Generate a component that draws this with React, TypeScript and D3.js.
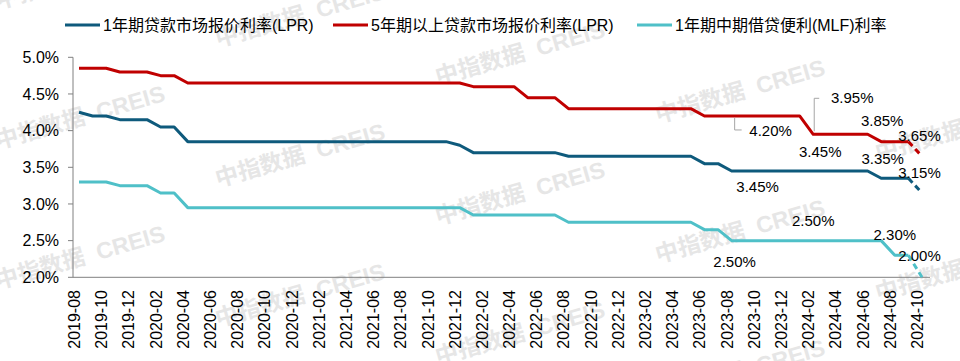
import React from "react";
import * as d3 from "d3";

const months = [
  "2019-08","2019-09","2019-10","2019-11","2019-12",
  "2020-01","2020-02","2020-03","2020-04","2020-05","2020-06","2020-07","2020-08","2020-09","2020-10","2020-11","2020-12",
  "2021-01","2021-02","2021-03","2021-04","2021-05","2021-06","2021-07","2021-08","2021-09","2021-10","2021-11","2021-12",
  "2022-01","2022-02","2022-03","2022-04","2022-05","2022-06","2022-07","2022-08","2022-09","2022-10","2022-11","2022-12",
  "2023-01","2023-02","2023-03","2023-04","2023-05","2023-06","2023-07","2023-08","2023-09","2023-10","2023-11","2023-12",
  "2024-01","2024-02","2024-03","2024-04","2024-05","2024-06","2024-07","2024-08","2024-09","2024-10",
];

const lpr1y = [
  4.25,4.20,4.20,4.15,4.15,
  4.15,4.05,4.05,3.85,3.85,3.85,3.85,3.85,3.85,3.85,3.85,3.85,
  3.85,3.85,3.85,3.85,3.85,3.85,3.85,3.85,3.85,3.85,3.85,3.80,
  3.70,3.70,3.70,3.70,3.70,3.70,3.70,3.65,3.65,3.65,3.65,3.65,
  3.65,3.65,3.65,3.65,3.65,3.55,3.55,3.45,3.45,3.45,3.45,3.45,
  3.45,3.45,3.45,3.45,3.45,3.45,3.35,3.35,3.35,3.15,
];

const lpr5y = [
  4.85,4.85,4.85,4.80,4.80,
  4.80,4.75,4.75,4.65,4.65,4.65,4.65,4.65,4.65,4.65,4.65,4.65,
  4.65,4.65,4.65,4.65,4.65,4.65,4.65,4.65,4.65,4.65,4.65,4.65,
  4.60,4.60,4.60,4.60,4.45,4.45,4.45,4.30,4.30,4.30,4.30,4.30,
  4.30,4.30,4.30,4.30,4.30,4.20,4.20,4.20,4.20,4.20,4.20,4.20,
  4.20,3.95,3.95,3.95,3.95,3.95,3.85,3.85,3.85,3.65,
];

const mlf = [
  3.30,3.30,3.30,3.25,3.25,
  3.25,3.15,3.15,2.95,2.95,2.95,2.95,2.95,2.95,2.95,2.95,2.95,
  2.95,2.95,2.95,2.95,2.95,2.95,2.95,2.95,2.95,2.95,2.95,2.95,
  2.85,2.85,2.85,2.85,2.85,2.85,2.85,2.75,2.75,2.75,2.75,2.75,
  2.75,2.75,2.75,2.75,2.75,2.65,2.65,2.50,2.50,2.50,2.50,2.50,
  2.50,2.50,2.50,2.50,2.50,2.50,2.50,2.30,2.30,2.00,
];

const seriesNames = [
  "1年期贷款市场报价利率(LPR)",
  "5年期以上贷款市场报价利率(LPR)",
  "1年期中期借贷便利(MLF)利率",
];
const seriesColors = ["#0E5A7C", "#C00000", "#4FC0C8"];
const seriesValues = [lpr1y, lpr5y, mlf];

const yTicks = [2.0, 2.5, 3.0, 3.5, 4.0, 4.5, 5.0];

// annotations: series index, month index, text
const annotations = [
  { s: 1, i: 48, t: "4.20%" },
  { s: 1, i: 54, t: "3.95%" },
  { s: 1, i: 59, t: "3.85%" },
  { s: 1, i: 62, t: "3.65%" },
  { s: 0, i: 54, t: "3.45%" },
  { s: 0, i: 59, t: "3.35%" },
  { s: 0, i: 62, t: "3.15%" },
  { s: 0, i: 48, t: "3.45%" },
  { s: 2, i: 54, t: "2.50%" },
  { s: 2, i: 60, t: "2.30%" },
  { s: 2, i: 62, t: "2.00%" },
  { s: 2, i: 48, t: "2.50%" },
];
// layout offsets for the annotations (text center relative to point), leader flag
const annotationLayout = [
  { dx: 39, dy: 15, leader: "down" },
  { dx: 39, dy: -37, leader: "up" },
  { dx: 1, dy: -21 },
  { dx: -2.5, dy: -21 },
  { dx: 7, dy: -19 },
  { dx: 1.5, dy: -20 },
  { dx: -2.5, dy: -20 },
  { dx: 26, dy: 16 },
  { dx: 0, dy: -20 },
  { dx: 0, dy: -21 },
  { dx: -2.5, dy: -22 },
  { dx: 3, dy: 21 },
];

const legendX = [65, 333, 637];

const FONT = "'Liberation Sans', Arial, 'Noto Sans CJK SC', sans-serif";

export default function App() {
  const W = 960;
  const H = 361;
  const x = d3.scalePoint<string>().domain(months).range([79, 922]);
  const y = d3.scaleLinear().domain([2, 5]).range([277.3, 57.3]);
  const axisLeft = 73;
  const axisRight = 930;

  const line = d3
    .line<number>()
    .x((_, i) => x(months[i]) as number)
    .y((d) => y(d));

  const lineTail = d3
    .line<number>()
    .x((_, i) => x(months[months.length - 2 + i]) as number)
    .y((d) => y(d));

  // watermark grid
  const wm: { cx: number; cy: number }[] = [];
  for (let k = 0; k < 5; k++) {
    for (let m = -1; m < 3; m++) {
      wm.push({ cx: 80 + 220 * k, cy: 117 + 38 * k + 140 * m });
    }
  }

  return (
    <svg
      width={W}
      height={H}
      style={{ position: "absolute", left: 0, top: 0, background: "#fff" }}
      fontFamily={FONT}
    >
      <rect width={W} height={H} fill="#fff" />
      {/* watermarks */}
      <g>
        {wm.map((w, idx) => (
          <text
            key={idx}
            transform={`translate(${w.cx},${w.cy}) rotate(-16)`}
            textAnchor="middle"
            dy="0.35em"
            fontSize={23}
            fontWeight="bold"
            fill="#e6e6e6"
            xmlSpace="preserve"
          >
            {"中指数据  CREIS"}
          </text>
        ))}
      </g>

      {/* legend */}
      <g>
        {seriesNames.map((n, i) => (
          <g key={n}>
            <line
              x1={legendX[i]}
              x2={legendX[i] + 35}
              y1={25}
              y2={25}
              stroke={seriesColors[i]}
              strokeWidth={3}
            />
            <text x={legendX[i] + 38} y={25} dy="0.36em" fontSize={16} fill="#000">
              {n}
            </text>
          </g>
        ))}
      </g>

      {/* y axis */}
      <line x1={axisLeft} x2={axisLeft} y1={y(5)} y2={y(2)} stroke="#808080" strokeWidth={1} />
      {yTicks.map((t) => (
        <g key={t}>
          <line x1={axisLeft - 5} x2={axisLeft} y1={y(t)} y2={y(t)} stroke="#808080" />
          <text x={59} y={y(t)} dy="0.36em" textAnchor="end" fontSize={16} fill="#000">
            {t.toFixed(1) + "%"}
          </text>
        </g>
      ))}

      {/* x axis */}
      <line x1={axisLeft} x2={axisRight} y1={y(2)} y2={y(2)} stroke="#808080" strokeWidth={1} />
      {months.map((m, i) =>
        i % 2 === 0 ? (
          <text
            key={m}
            transform={`translate(${(x(m) as number) + 1},${290}) rotate(-90)`}
            textAnchor="end"
            fontSize={16}
            fill="#000"
          >
            {m}
          </text>
        ) : null
      )}

      {/* lines */}
      {seriesValues.map((vals, si) => (
        <g key={si}>
          <path
            d={line(vals.slice(0, vals.length - 1)) || ""}
            fill="none"
            stroke={seriesColors[si]}
            strokeWidth={3}
            strokeLinejoin="round"
          />
          <path
            d={lineTail(vals.slice(vals.length - 2)) || ""}
            fill="none"
            stroke={seriesColors[si]}
            strokeWidth={3}
            strokeDasharray="6 4"
          />
        </g>
      ))}

      {/* annotations */}
      {annotations.map((a, k) => {
        const L = annotationLayout[k];
        const px = x(months[a.i]) as number;
        const py = y(seriesValues[a.s][a.i]);
        const cx = px + L.dx;
        const cy = py + L.dy;
        let leader = null;
        if (L.leader === "down") {
          leader = (
            <polyline
              points={`${px + 3},${py + 2} ${px + 3},${py + 14} ${px + 10},${py + 14}`}
              fill="none"
              stroke="#a6a6a6"
              strokeWidth={1}
            />
          );
        } else if (L.leader === "up") {
          leader = (
            <polyline
              points={`${px + 1},${py - 3} ${px + 1},${py - 36} ${px + 6},${py - 36}`}
              fill="none"
              stroke="#a6a6a6"
              strokeWidth={1}
            />
          );
        }
        return (
          <g key={k}>
            {leader}
            <text x={cx} y={cy} dy="0.35em" textAnchor="middle" fontSize={15} fill="#000">
              {a.t}
            </text>
          </g>
        );
      })}
    </svg>
  );
}
